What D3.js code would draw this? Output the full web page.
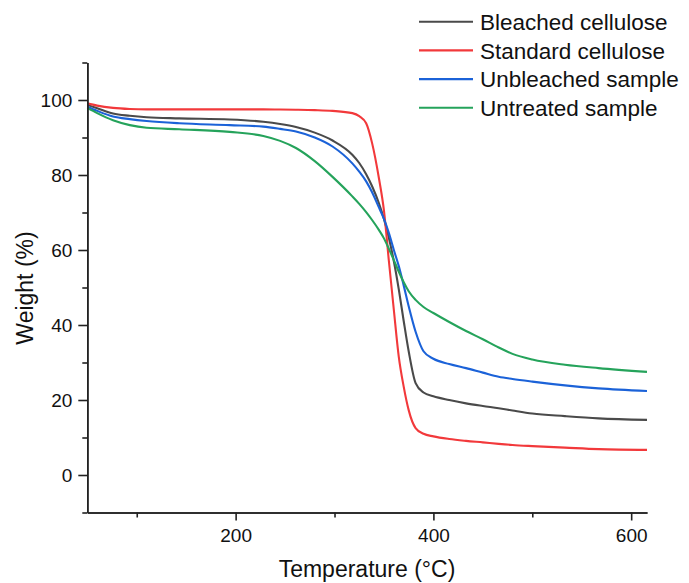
<!DOCTYPE html>
<html><head><meta charset="utf-8">
<script src="https://cdn.jsdelivr.net/npm/d3@7"></script>
<style>body{margin:0;background:#fff}svg{display:block}text{font-family:"Liberation Sans",Arial,sans-serif;fill:#111}</style>
</head><body><svg id="c" width="689" height="583"></svg>
<script>
const temps = [50,60,76,93,110,143,194,228,245,261,280,298,318,325,332,338,345,350,355,360,365,370,375,382,390,400,416,433,450,466,480,500,533,567,616];
const bleached = [98.7,97.8,96.4,95.8,95.4,95.1,94.8,94.2,93.6,92.8,91.3,89.2,85.4,83.2,80.2,77.0,72.4,68.3,63.2,57,49.5,41,33,24.5,22,21,20,19.1,18.4,17.8,17.2,16.4,15.7,15.1,14.7];
const standard = [99.1,98.5,97.9,97.6,97.5,97.5,97.5,97.5,97.45,97.4,97.3,97.1,96.5,95.7,93.8,88.5,79,70.5,57,44,31.5,23.5,17.3,12.5,11,10.3,9.6,9.1,8.7,8.3,8.0,7.7,7.3,6.9,6.7];
const unbleached = [98.2,97.1,95.6,94.9,94.4,93.8,93.3,92.9,92.3,91.6,90.0,87.6,83.1,80.9,78.3,75.4,71.3,68.3,64.5,60,55.7,50.5,45,38.2,33,31,29.6,28.5,27.3,26.2,25.6,24.9,23.9,23.1,22.4];
const untreated = [97.9,96.5,94.6,93.3,92.6,92.2,91.5,90.4,89.1,87.2,83.7,79.5,74.3,72.3,70.1,68.0,65.3,63.1,60.3,57.3,54.2,51.4,49.0,46.7,44.8,43.2,40.8,38.4,36.2,34.0,32.3,30.8,29.4,28.5,27.5];
const seriesNames = ["Bleached cellulose","Standard cellulose","Unbleached sample","Untreated sample"];
const seriesColors = ["#4a4a4a","#f2393b","#1b62d8","#25a35b"];
const xMajor = [200,400,600], xMinor = [100,300,500];
const yMajor = [0,20,40,60,80,100], yMinor = [-10,10,30,50,70,90,110];

const svg = d3.select("#c");
const x = d3.scaleLinear().domain([50,616]).range([87.3,647]);
const y = d3.scaleLinear().domain([-10,110]).range([512.5,62.5]);
const allSeries = [bleached, standard, unbleached, untreated];

const line = d3.line().x(d=>x(d[0])).y(d=>y(d[1])).curve(d3.curveMonotoneX);
allSeries.forEach((vals,i)=>{
  svg.append("path").datum(temps.map((t,j)=>[t,vals[j]]))
    .attr("d",line).attr("fill","none").attr("stroke",seriesColors[i]).attr("stroke-width",2.1);
});

function styleAxis(g){g.selectAll("path,line").attr("stroke","#222").attr("stroke-width",1.6);g.selectAll("text").style("font-size","19px").style("font-family","'Liberation Sans',Arial,sans-serif").attr("fill","#111");}
svg.append("g").attr("transform","translate(0,512.5)").call(d3.axisBottom(x).tickValues(xMinor).tickSize(5).tickSizeOuter(0).tickFormat("")).call(styleAxis);
svg.append("g").attr("transform","translate(0,512.5)").call(d3.axisBottom(x).tickValues(xMajor).tickSize(8).tickSizeOuter(0).tickPadding(8)).call(styleAxis);
svg.append("g").attr("transform","translate(87.3,0)").call(d3.axisLeft(y).tickValues(yMinor).tickSize(5).tickSizeOuter(0).tickFormat("")).call(styleAxis);
svg.append("g").attr("transform","translate(87.3,0)").call(d3.axisLeft(y).tickValues(yMajor).tickSize(9).tickSizeOuter(0).tickPadding(6)).call(styleAxis);

svg.append("text").attr("x",367).attr("y",577).attr("text-anchor","middle").style("font-size","23px").text("Temperature (°C)");
svg.append("text").attr("transform","translate(33,288) rotate(-90)").attr("text-anchor","middle").style("font-size","23px").text("Weight (%)");

seriesNames.forEach((n,i)=>{
  const yy = 21.7 + i*28.7;
  svg.append("line").attr("x1",419).attr("x2",473).attr("y1",yy).attr("y2",yy).attr("stroke",seriesColors[i]).attr("stroke-width",2.1);
  svg.append("text").attr("x",480).attr("y",yy).attr("dy","0.36em").style("font-size","22.5px").text(n);
});
</script></body></html>
